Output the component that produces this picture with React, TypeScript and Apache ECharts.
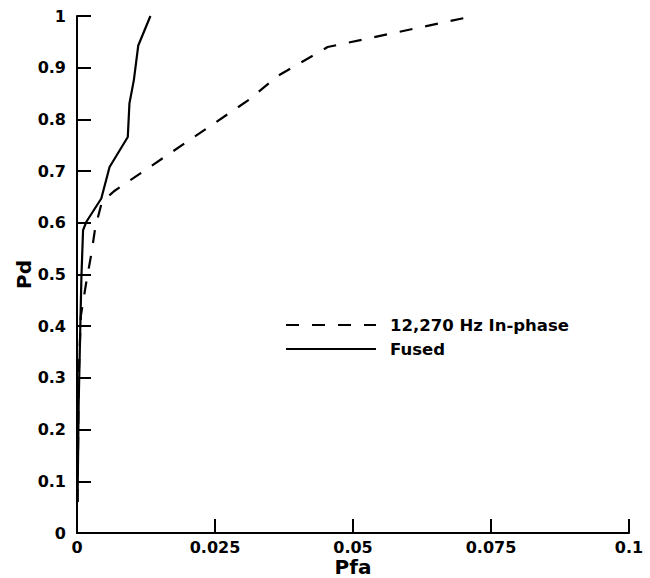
import React, { useEffect, useRef } from "react";
import * as echarts from "echarts";

const seriesNames = ["12,270 Hz In-phase", "Fused"];

const pfaInPhase = [0.0001, 0.0003, 0.0007, 0.0016, 0.0026, 0.0033, 0.0045, 0.0067, 0.0313, 0.0362, 0.0454, 0.0719];
const pdInPhase = [0.06, 0.3, 0.42, 0.48, 0.54, 0.59, 0.64, 0.661, 0.839, 0.883, 0.94, 1.0];

const pfaFused = [0.0001, 0.0003, 0.0006, 0.0008, 0.0011, 0.0017, 0.0044, 0.0059, 0.0092, 0.0095, 0.0103, 0.0111, 0.0133];
const pdFused = [0.06, 0.25, 0.4, 0.495, 0.586, 0.602, 0.647, 0.708, 0.766, 0.831, 0.876, 0.943, 1.0];

const FONT = "DejaVu Sans";

export default function App() {
  const ref = useRef<HTMLDivElement>(null);

  useEffect(() => {
    if (!ref.current) return;
    const chart = echarts.init(ref.current, undefined, { renderer: "svg" });
    const zip = (xs: number[], ys: number[]) => xs.map((x, i) => [x, ys[i]]);
    const axisCommon = {
      axisLine: { show: true, onZero: false, lineStyle: { color: "#000", width: 2 } },
      axisTick: { show: true, inside: true, length: 14, lineStyle: { color: "#000", width: 2 } },
      splitLine: { show: false },
      axisLabel: { color: "#000", fontFamily: FONT, fontWeight: "bold", fontSize: 16, lineHeight: 16 },
      nameTextStyle: { color: "#000", fontFamily: FONT, fontWeight: "bold", fontSize: 20, lineHeight: 20 },
      nameMoveOverlap: false,
    };
    chart.setOption({
      animation: false,
      backgroundColor: "#fff",
      grid: { left: 77, right: 21, top: 16, bottom: 45, containLabel: false, outerBoundsMode: "none" },
      xAxis: {
        type: "value",
        min: 0,
        max: 0.1,
        interval: 0.025,
        name: "Pfa",
        nameLocation: "middle",
        nameGap: 24,
        ...axisCommon,
        axisLabel: { ...axisCommon.axisLabel, margin: 6 },
      },
      yAxis: {
        type: "value",
        min: 0,
        max: 1,
        interval: 0.1,
        name: "Pd",
        nameLocation: "middle",
        nameGap: 43,
        nameRotate: 90,
        ...axisCommon,
        axisLabel: { ...axisCommon.axisLabel, margin: 11 },
      },
      legend: {
        show: true,
        orient: "vertical",
        left: 285,
        top: 313,
        padding: 0,
        itemWidth: 90,
        itemHeight: 14,
        itemGap: 0,
        data: seriesNames,
        itemStyle: { opacity: 0 },
        textStyle: {
          color: "#000",
          fontFamily: FONT,
          fontWeight: "bold",
          fontSize: 16.5,
          lineHeight: 24,
          padding: [0, 0, 0, 9],
        },
      },
      series: [
        {
          name: seriesNames[0],
          type: "line",
          data: zip(pfaInPhase, pdInPhase),
          symbol: "none",
          showSymbol: false,
          lineStyle: { color: "#000", width: 2.2, type: [13, 13] },
          itemStyle: { color: "#000" },
        },
        {
          name: seriesNames[1],
          type: "line",
          data: zip(pfaFused, pdFused),
          symbol: "none",
          showSymbol: false,
          lineStyle: { color: "#000", width: 2.2, type: "solid" },
          itemStyle: { color: "#000" },
        },
      ],
    });
    return () => chart.dispose();
  }, []);

  return (
    <div
      ref={ref}
      style={{ position: "fixed", left: 0, top: 0, width: 650, height: 578, background: "#fff" }}
    />
  );
}
